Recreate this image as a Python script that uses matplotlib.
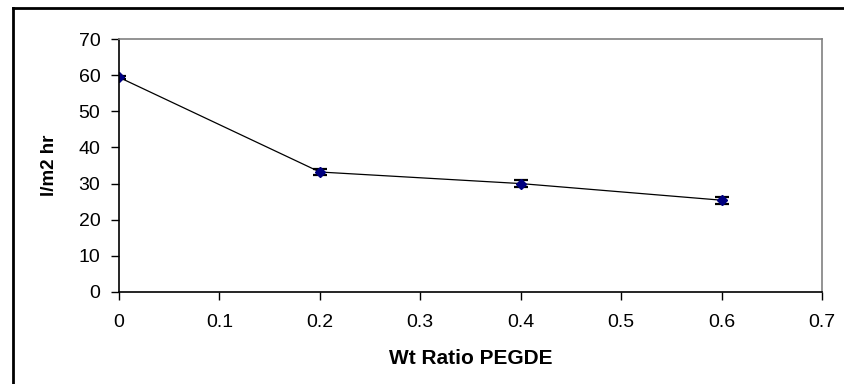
import matplotlib
matplotlib.use('Agg')
import matplotlib.pyplot as plt
from matplotlib.lines import Line2D

plt.rcParams['font.family'] = ['Liberation Sans', 'DejaVu Sans']

# data
ratio = [0, 0.2, 0.4, 0.6]
flux = [59.4, 33.2, 30.0, 25.4]
flux_err = [0.5, 0.7, 0.9, 1.0]

fig = plt.figure(figsize=(8.44, 3.84), dpi=100)
ax = fig.add_axes([119/844, 1-292/384, (822-119)/844, (292-39)/384])

ax.errorbar(ratio, flux, yerr=flux_err, color='black', lw=0.9,
            marker='D', ms=5.5, mfc='#000080', mec='#000080',
            ecolor='black', elinewidth=1.2, capsize=5, capthick=1.6)

ax.set_xlim(0, 0.7)
ax.set_ylim(0, 70)
ax.set_xticks([0, 0.1, 0.2, 0.3, 0.4, 0.5, 0.6, 0.7])
ax.set_xticklabels(['0', '0.1', '0.2', '0.3', '0.4', '0.5', '0.6', '0.7'])
ax.set_yticks(range(0, 71, 10))
ax.tick_params(direction='out', length=5.5, width=1, labelsize=14)
ax.tick_params(axis='x', pad=10)
ax.tick_params(axis='y', pad=8)

for s in ['top', 'right']:
    ax.spines[s].set_color('#808080')
    ax.spines[s].set_linewidth(1.2)
for s in ['left', 'bottom']:
    ax.spines[s].set_color('black')
    ax.spines[s].set_linewidth(1.2)

ax.set_xlabel('Wt Ratio PEGDE', fontsize=15, fontweight='bold', labelpad=13)
ax.set_ylabel('l/m2 hr', fontsize=13.5, fontweight='bold', labelpad=15)

# outer chart frame (only left and top visible)
fig.add_artist(Line2D([13/844, 13/844], [0, 1-8/384], color='black', lw=2,
                      transform=fig.transFigure))
fig.add_artist(Line2D([13/844, 1], [1-8/384, 1-8/384], color='black', lw=2,
                      transform=fig.transFigure))

fig.savefig('out.png', dpi=100)
